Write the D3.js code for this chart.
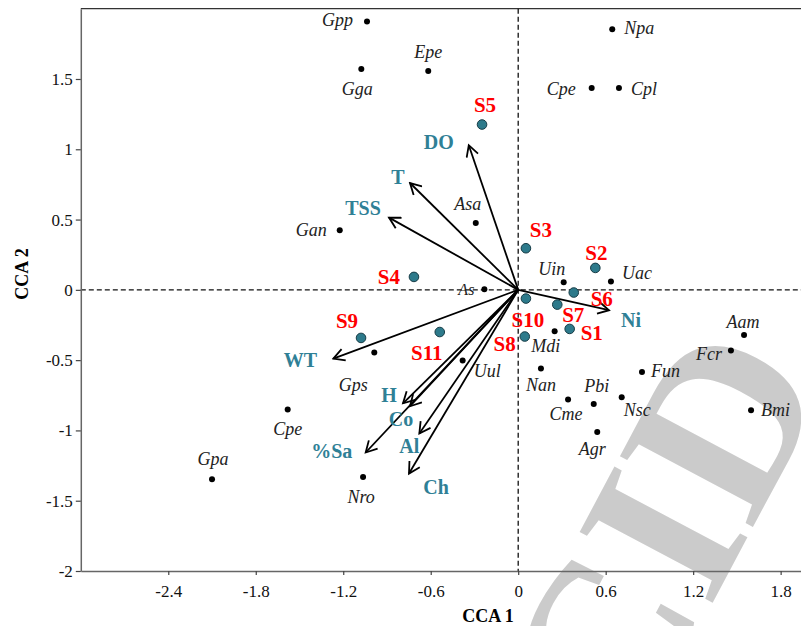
<!DOCTYPE html>
<html>
<head>
<meta charset="utf-8">
<script src="https://cdn.jsdelivr.net/npm/d3@7"></script>
<style>
  body { margin: 0; background: #fff; }
  svg { display: block; font-family: "Liberation Serif", "Times New Roman", serif; }
</style>
</head>
<body>
<div id="chart"></div>
<script>
// species scores (CCA 1, CCA 2)
const speciesNames = ["Gpp", "Epe", "Gga", "Npa", "Cpe", "Cpl", "Asa", "Gan", "As", "Uin", "Uac", "Mdi", "Aam", "Fcr", "Fun", "Nan", "Pbi", "Cme", "Nsc", "Bmi", "Agr", "Uul", "Gps", "Cpe", "Gpa", "Nro"];
const speciesX = [-1.037, -0.617, -1.076, 0.645, 0.504, 0.691, -0.291, -1.224, -0.232, 0.312, 0.636, 0.250, 1.549, 1.459, 0.849, 0.156, 0.518, 0.342, 0.710, 1.597, 0.542, -0.381, -0.987, -1.581, -2.100, -1.064];
const speciesY = [1.909, 1.557, 1.571, 1.854, 1.436, 1.436, 0.476, 0.424, 0.004, 0.054, 0.059, -0.295, -0.321, -0.432, -0.584, -0.560, -0.812, -0.780, -0.764, -0.857, -1.011, -0.503, -0.446, -0.852, -1.347, -1.331];

// site scores
const siteNames = ["S1", "S2", "S3", "S4", "S5", "S6", "S7", "S8", "S9", "S10", "S11"];
const siteX = [0.353, 0.529, 0.053, -0.715, -0.248, 0.381, 0.268, 0.045, -1.078, 0.053, -0.538];
const siteY = [-0.278, 0.156, 0.296, 0.092, 1.176, -0.019, -0.105, -0.332, -0.342, -0.062, -0.300];

// environmental vectors
const envNames = ["DO", "T", "TSS", "Ni", "WT", "H", "Co", "%Sa", "Al", "Ch"];
const envX = [-0.339, -0.742, -0.886, 0.623, -1.268, -0.790, -0.742, -1.046, -0.678, -0.749];
const envY = [1.029, 0.760, 0.514, -0.145, -0.489, -0.807, -0.828, -1.157, -1.022, -1.307];

const xTicks = [-2.4, -1.8, -1.2, -0.6, 0, 0.6, 1.2, 1.8];
const yTicks = [-2, -1.5, -1, -0.5, 0, 0.5, 1, 1.5];

// label placement (pixel offsets from the mark), by index
const speciesLabelPos = [
  [-14, 5, "end"], [0, -13, "middle"], [-4, 26, "middle"], [12, 5, "start"], [-16, 7, "end"],
  [12, 7, "start"], [-8, -13, "middle"], [-13, 6, "end"], [-10, 6, "end"], [-12, -7, "middle"],
  [11, -3, "start"], [-9, 21, "middle"], [-1, -7, "middle"], [-9, 9, "end"], [9, 5, "start"],
  [0, 22, "middle"], [3, -12, "middle"], [-2, 21, "middle"], [2, 19, "start"], [10, 6, "start"],
  [-5, 23, "middle"], [11, 16, "start"], [-21, 38, "middle"], [0, 25, "middle"], [1, -14, "middle"],
  [-2, 26, "middle"]
];
const siteLabelPos = [
  [11, 11, "start"], [1, -8, "middle"], [15, -11, "middle"], [-14, 7, "end"], [3, -13, "middle"],
  [28, 13, "middle"], [16, 17, "middle"], [-9, 14, "end"], [-14, -10, "middle"], [2, 28, "middle"],
  [-13, 28, "middle"]
];
const envLabelPos = [
  [-30, 4], [-12, 1], [-26, -3], [22, 17], [-33, 8], [-14, -1], [-9, 20], [-34, 6], [-10, 19], [27, 20]
];

const w = 801, h = 626;
const margin = { top: 8.7, left: 80.8, bottom: 55 };
const teal = "#2f8096";

const svg = d3.select("#chart").append("svg")
  .attr("width", w)
  .attr("height", h);

const xScale = d3.scaleLinear().domain([-3, 2]).range([margin.left, 809.8]);
const yScale = d3.scaleLinear().domain([-2, 2]).range([571, margin.top]);

// watermark
svg.append("text")
  .attr("transform", "translate(730,570) rotate(-62)")
  .attr("text-anchor", "middle")
  .attr("fill", "#cbcbcb")
  .style("font-size", "230px")
  .style("font-weight", "bold")
  .text("CID");

// frame: top line
svg.append("line")
  .attr("x1", margin.left).attr("x2", w)
  .attr("y1", yScale(2)).attr("y2", yScale(2))
  .attr("stroke", "#333").attr("stroke-width", 1.3);

// dashed zero lines
svg.append("line")
  .attr("x1", margin.left).attr("x2", w)
  .attr("y1", yScale(0)).attr("y2", yScale(0))
  .attr("stroke", "#111").attr("stroke-width", 1.3).attr("stroke-dasharray", "5,3");
svg.append("line")
  .attr("x1", xScale(0)).attr("x2", xScale(0))
  .attr("y1", yScale(2)).attr("y2", yScale(-2))
  .attr("stroke", "#111").attr("stroke-width", 1.3).attr("stroke-dasharray", "5,3");

// axes
const xAxis = d3.axisBottom(xScale).tickValues(xTicks).tickFormat(d => String(d)).tickSize(4).tickPadding(10).tickSizeOuter(0);
const yAxis = d3.axisLeft(yScale).tickValues(yTicks).tickFormat(d => String(d)).tickSize(5).tickPadding(3).tickSizeOuter(0);

const xAxisG = svg.append("g")
  .attr("transform", `translate(0,${yScale(-2)})`)
  .call(xAxis);
const yAxisG = svg.append("g")
  .attr("transform", `translate(${margin.left},0)`)
  .call(yAxis);

[xAxisG, yAxisG].forEach(g => {
  g.attr("font-family", "Liberation Serif").attr("font-size", 17);
  g.select(".domain").attr("stroke", "#666").attr("stroke-width", 1.5);
  g.selectAll(".tick line").attr("stroke", "#444").attr("stroke-width", 1.2);
  g.selectAll(".tick text").attr("fill", "#111");
});

svg.append("text")
  .attr("x", 488).attr("y", 622)
  .attr("text-anchor", "middle")
  .style("font-size", "18px").style("font-weight", "bold")
  .text("CCA 1");
svg.append("text")
  .attr("transform", "translate(28,274) rotate(-90)")
  .attr("text-anchor", "middle")
  .style("font-size", "18px").style("font-weight", "bold")
  .text("CCA 2");

// arrows
const defs = svg.append("defs");
defs.append("marker")
  .attr("id", "head")
  .attr("markerUnits", "userSpaceOnUse")
  .attr("viewBox", "-12 -7 14 14")
  .attr("markerWidth", 14).attr("markerHeight", 14)
  .attr("refX", 0).attr("refY", 0)
  .attr("orient", "auto")
  .append("path")
  .attr("d", "M-11,-6L0,0L-11,6")
  .attr("fill", "none")
  .attr("stroke", "#000")
  .attr("stroke-width", 1.8);

const envData = envNames.map((n, i) => ({ name: n, x: envX[i], y: envY[i], pos: envLabelPos[i] }));

svg.selectAll(".vec")
  .data(envData)
  .enter()
  .append("line")
  .attr("class", "vec")
  .attr("x1", xScale(0)).attr("y1", yScale(0))
  .attr("x2", d => xScale(d.x)).attr("y2", d => yScale(d.y))
  .attr("stroke", "#000")
  .attr("stroke-width", 1.8)
  .attr("marker-end", "url(#head)");

svg.selectAll(".envlab")
  .data(envData)
  .enter()
  .append("text")
  .attr("class", "envlab")
  .attr("x", d => xScale(d.x) + d.pos[0])
  .attr("y", d => yScale(d.y) + d.pos[1])
  .attr("text-anchor", "middle")
  .attr("fill", teal)
  .style("font-size", "20px")
  .style("font-weight", "bold")
  .text(d => d.name);

// species
const spData = speciesNames.map((n, i) => ({ name: n, x: speciesX[i], y: speciesY[i], pos: speciesLabelPos[i] }));

svg.selectAll(".sp")
  .data(spData)
  .enter()
  .append("circle")
  .attr("class", "sp")
  .attr("cx", d => xScale(d.x))
  .attr("cy", d => yScale(d.y))
  .attr("r", 3)
  .attr("fill", "#000");

svg.selectAll(".splab")
  .data(spData)
  .enter()
  .append("text")
  .attr("class", "splab")
  .attr("x", d => xScale(d.x) + d.pos[0])
  .attr("y", d => yScale(d.y) + d.pos[1])
  .attr("text-anchor", d => d.pos[2])
  .attr("fill", "#222")
  .style("font-size", d => d.name === "As" ? "16px" : "18px")
  .style("font-style", "italic")
  .text(d => d.name);

// sites
const siteData = siteNames.map((n, i) => ({ name: n, x: siteX[i], y: siteY[i], pos: siteLabelPos[i] }));

svg.selectAll(".site")
  .data(siteData)
  .enter()
  .append("circle")
  .attr("class", "site")
  .attr("cx", d => xScale(d.x))
  .attr("cy", d => yScale(d.y))
  .attr("r", 4.8)
  .attr("fill", "#2d7a8b")
  .attr("stroke", "#173c46")
  .attr("stroke-width", 1);

svg.selectAll(".sitelab")
  .data(siteData)
  .enter()
  .append("text")
  .attr("class", "sitelab")
  .attr("x", d => xScale(d.x) + d.pos[0])
  .attr("y", d => yScale(d.y) + d.pos[1])
  .attr("text-anchor", d => d.pos[2])
  .attr("fill", "#ff0000")
  .style("font-size", "21px")
  .style("font-weight", "bold")
  .text(d => d.name);
</script>
</body>
</html>
